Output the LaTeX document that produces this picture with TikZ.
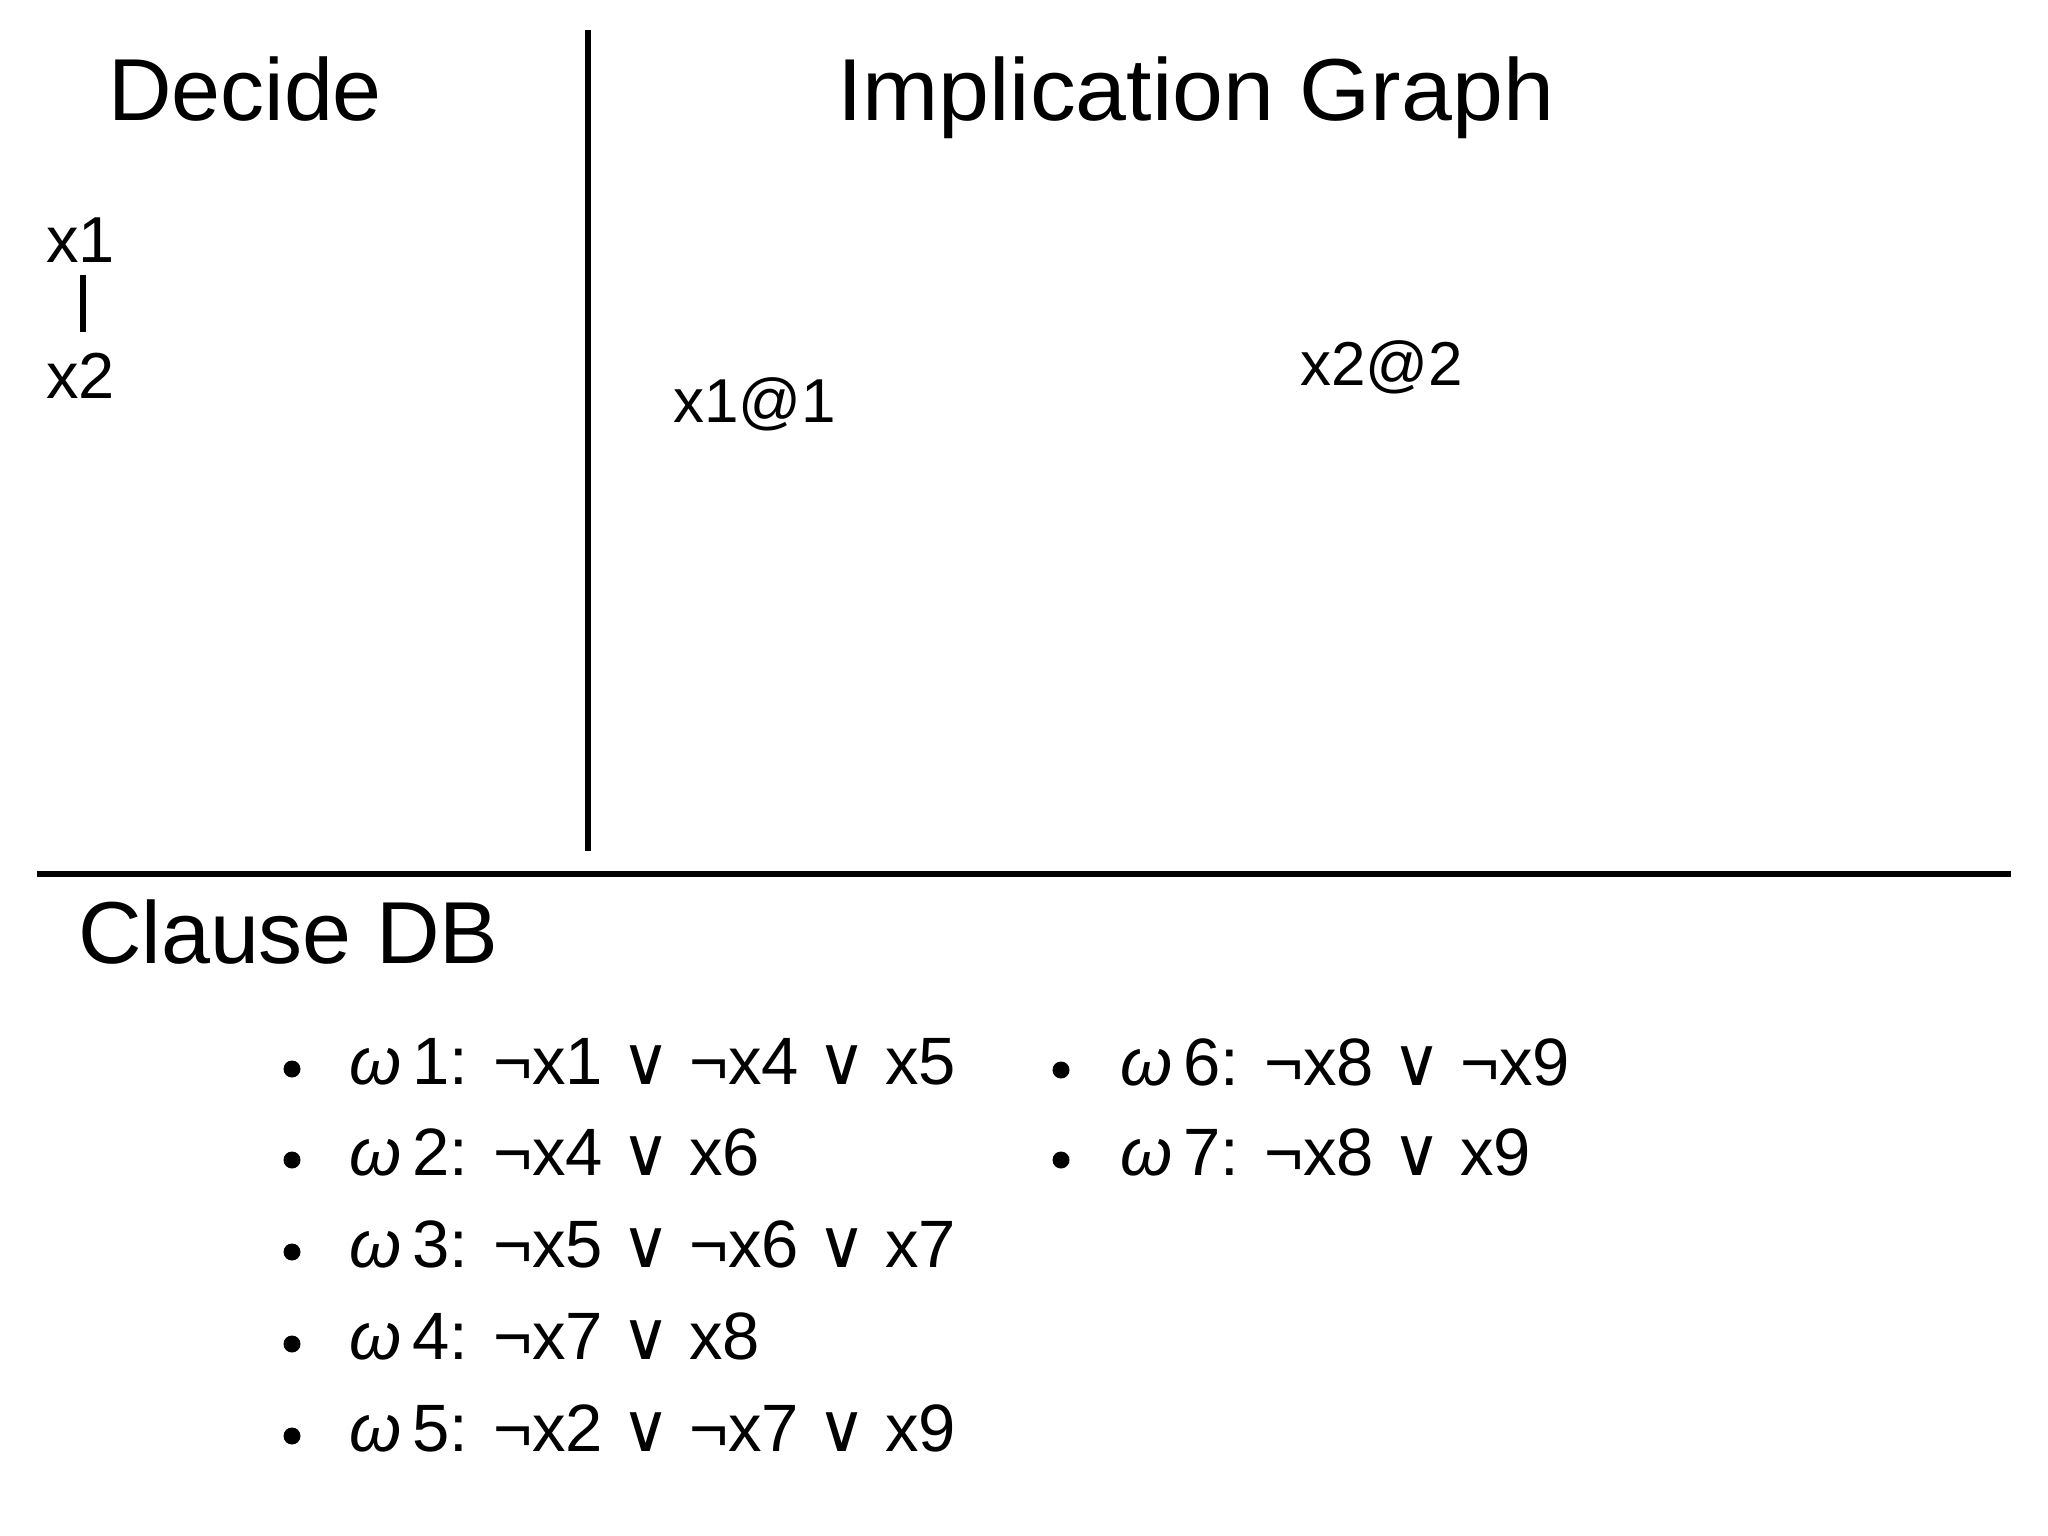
\documentclass[tikz,border=0pt]{standalone}
\usepackage{fontspec}
\setmainfont{Liberation Sans}
\newfontfamily\symfont{DejaVu Sans}
\newcommand{\myor}{{\symfont ∨}}
\newcommand{\om}{{\itshape ω}}
\begin{document}
\begin{tikzpicture}[x=1pt,y=-1pt,
  every node/.style={inner sep=0pt,outer sep=0pt,anchor=base west},
  head/.style={font=\fontsize{88}{100}\selectfont},
  dec/.style={font=\fontsize{65}{76}\selectfont},
  lit/.style={font=\fontsize{62}{72}\selectfont},
  clause/.style={font=\fontsize{67}{78}\selectfont},
  rule/.style={line width=6pt},
  bar/.style={line width=6pt},
  dot/.style={fill=black}]
\useasboundingbox (0,0) rectangle (2048,1536);
% frame lines
\coordinate (vtop) at (588,30);
\coordinate (vbot) at (588,851);
\coordinate (hl) at (37,874);
\coordinate (hr) at (2011,874);
\draw[rule] (vtop) -- (vbot);
\draw[rule] (hl) -- (hr);
% headings
\node[head] (decide) at (108,121) {Decide};
\node[head,xscale=1.04] (impl) at (837,121) {Implication Graph};
\node[head] (clausedb) at (78,963) {Clause DB};
% decide stack
\node[dec] (x1) at (46,262) {x1};
\node[dec] (x2) at (46,398) {x2};
\coordinate (bartop) at (83,275);
\coordinate (barbot) at (83,332);
\draw[bar] (bartop) -- (barbot);
% implication graph nodes
\node[lit] (x1at1) at (673,422) {x1@1};
\node[lit] (x2at2) at (1300,385) {x2@2};
% clause DB
\foreach \yy in {1084,1175,1267,1359,1451} {\fill[dot] (292,\yy-15) circle (8.5);}
\foreach \yy in {1085,1175} {\fill[dot] (1061,\yy-15) circle (8.5);}
\node[clause] (w1) at (349,1084) {\om\,1: ¬x1 \myor{} ¬x4 \myor{} x5};
\node[clause] (w2) at (349,1175) {\om\,2: ¬x4 \myor{} x6};
\node[clause] (w3) at (349,1267) {\om\,3: ¬x5 \myor{} ¬x6 \myor{} x7};
\node[clause] (w4) at (349,1359) {\om\,4: ¬x7 \myor{} x8};
\node[clause] (w5) at (349,1451) {\om\,5: ¬x2 \myor{} ¬x7 \myor{} x9};
\node[clause] (w6) at (1120,1085) {\om\,6: ¬x8 \myor{} ¬x9};
\node[clause] (w7) at (1120,1175) {\om\,7: ¬x8 \myor{} x9};
\end{tikzpicture}
\end{document}
